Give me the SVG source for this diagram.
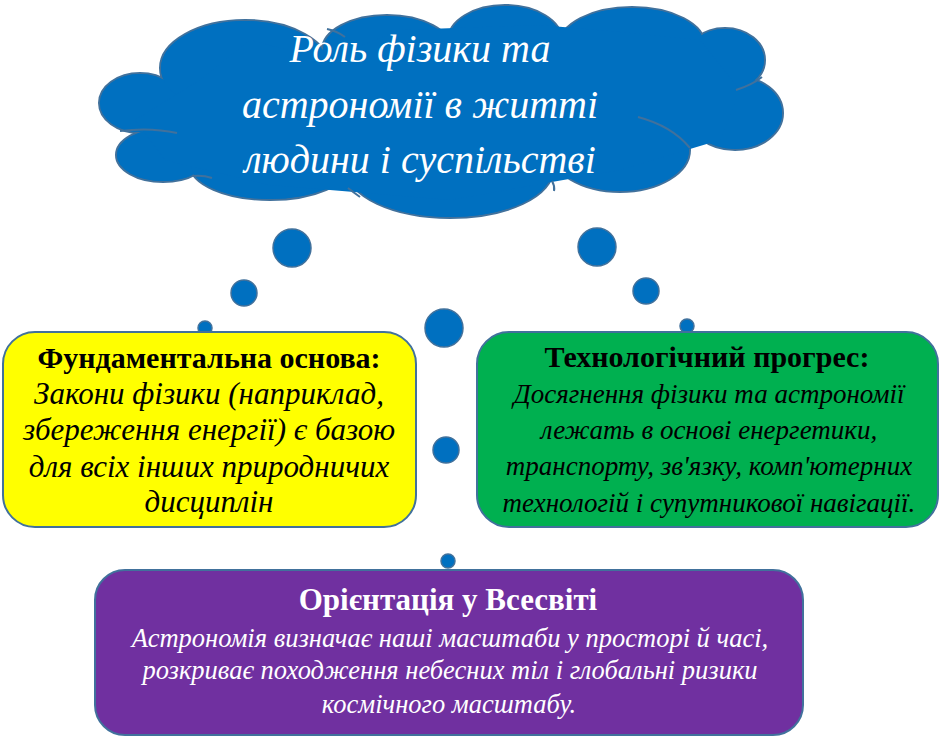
<svg xmlns="http://www.w3.org/2000/svg" width="940" height="738" viewBox="0 0 940 738">
<style>
.cl{fill:#0070C0;stroke:#41719C;stroke-width:2}
.cf{fill:#0070C0;stroke:none}
.in{fill:none;stroke:#41719C;stroke-width:2}
.bub{fill:#0070C0;stroke:#41719C;stroke-width:1.5}
.box{stroke:#41719C;stroke-width:2}
.t{font-family:"Liberation Serif","Times New Roman",serif;text-anchor:middle}
.b{font-weight:bold}
.i{font-style:italic}
</style>
<rect width="940" height="738" fill="#ffffff"/>
<g id="cloud">
  <g class="cl">
    <ellipse cx="140" cy="103" rx="41" ry="30"/>
    <ellipse cx="163" cy="155" rx="47" ry="27"/>
    <ellipse cx="270" cy="165" rx="80" ry="35"/>
    <ellipse cx="450" cy="170" rx="103" ry="48"/>
    <ellipse cx="620" cy="150" rx="70" ry="42"/>
    <ellipse cx="735" cy="113" rx="48" ry="37"/>
    <ellipse cx="725" cy="60" rx="40" ry="32"/>
    <ellipse cx="632" cy="45" rx="73" ry="38"/>
    <ellipse cx="505" cy="40" rx="57" ry="35"/>
    <ellipse cx="387" cy="50" rx="65" ry="35"/>
    <ellipse cx="245" cy="68" rx="85" ry="48"/>
  </g>
  <g class="cf">
    <ellipse cx="140" cy="103" rx="40" ry="29"/>
    <ellipse cx="163" cy="155" rx="46" ry="26"/>
    <ellipse cx="270" cy="165" rx="79" ry="34"/>
    <ellipse cx="450" cy="170" rx="102" ry="47"/>
    <ellipse cx="620" cy="150" rx="69" ry="41"/>
    <ellipse cx="735" cy="113" rx="47" ry="36"/>
    <ellipse cx="725" cy="60" rx="39" ry="31"/>
    <ellipse cx="632" cy="45" rx="72" ry="37"/>
    <ellipse cx="505" cy="40" rx="56" ry="34"/>
    <ellipse cx="387" cy="50" rx="64" ry="34"/>
    <ellipse cx="245" cy="68" rx="84" ry="47"/>
    <polygon points="135,120 200,80 250,40 325,60 400,30 540,25 620,32 700,40 740,90 720,140 620,170 450,200 270,185 165,160"/>
  </g>
  <path class="in" d="M120 131 Q150 127 177 133"/>
  <path class="in" d="M193 176 Q203 175 212 178"/>
  <path class="in" d="M327 29 Q337 31 345 37"/>
  <path class="in" d="M348 188 Q353 192 360 197"/>
  <path class="in" d="M552 181 Q555 186 554 191"/>
  <path class="in" d="M638 117 Q672 126 690 148"/>
  <path class="in" d="M736 90 Q752 85 762 77"/>
  <text class="t i" x="420" y="62" font-size="40" fill="#ffffff">Роль фізики та</text>
  <text class="t i" x="420" y="118" font-size="40" fill="#ffffff">астрономії в житті</text>
  <text class="t i" x="420" y="173" font-size="40" fill="#ffffff">людини і суспільстві</text>
</g>
<g id="connectors">
  <circle class="bub" cx="292" cy="248" r="19"/>
  <circle class="bub" cx="244" cy="293" r="13"/>
  <circle class="bub" cx="205" cy="328" r="7"/>
  <circle class="bub" cx="597" cy="247" r="19"/>
  <circle class="bub" cx="646" cy="291" r="13"/>
  <circle class="bub" cx="687" cy="326" r="7"/>
  <circle class="bub" cx="444" cy="328" r="19"/>
  <circle class="bub" cx="446" cy="450" r="13"/>
  <circle class="bub" cx="448" cy="561" r="7"/>
</g>
<g id="node-fundamental">
  <rect class="box" x="3" y="332" width="413" height="195" rx="32" fill="#FFFF00"/>
  <text class="t b" x="209" y="368" font-size="30" fill="#000000">Фундаментальна основа:</text>
  <text class="t i" x="209" y="404" font-size="31" fill="#000000">Закони фізики (наприклад,</text>
  <text class="t i" x="209" y="440" font-size="31" fill="#000000">збереження енергії) є базою</text>
  <text class="t i" x="209" y="477" font-size="31" fill="#000000">для всіх інших природничих</text>
  <text class="t i" x="209" y="512" font-size="31" fill="#000000">дисциплін</text>
</g>
<g id="node-tech">
  <rect class="box" x="477" y="332" width="461" height="195" rx="32" fill="#00B050"/>
  <text class="t b" x="707" y="367" font-size="30" fill="#000000">Технологічний прогрес:</text>
  <text class="t i" x="709" y="403" font-size="27" fill="#000000">Досягнення фізики та астрономії</text>
  <text class="t i" x="709" y="439" font-size="27" fill="#000000">лежать в основі енергетики,</text>
  <text class="t i" x="709" y="475" font-size="27" fill="#000000">транспорту, зв'язку, комп'ютерних</text>
  <text class="t i" x="709" y="512" font-size="27" fill="#000000">технологій і супутникової навігації.</text>
</g>
<g id="node-universe">
  <rect class="box" x="95" y="570" width="708" height="165" rx="30" fill="#7030A0"/>
  <text class="t b" x="448" y="610" font-size="31" fill="#ffffff">Орієнтація у Всесвіті</text>
  <text class="t i" x="450" y="647" font-size="26.5" fill="#ffffff">Астрономія визначає наші масштаби у просторі й часі,</text>
  <text class="t i" x="450" y="679" font-size="26.5" fill="#ffffff">розкриває походження небесних тіл і глобальні ризики</text>
  <text class="t i" x="449" y="713" font-size="26.5" fill="#ffffff">космічного масштабу.</text>
</g>
</svg>
